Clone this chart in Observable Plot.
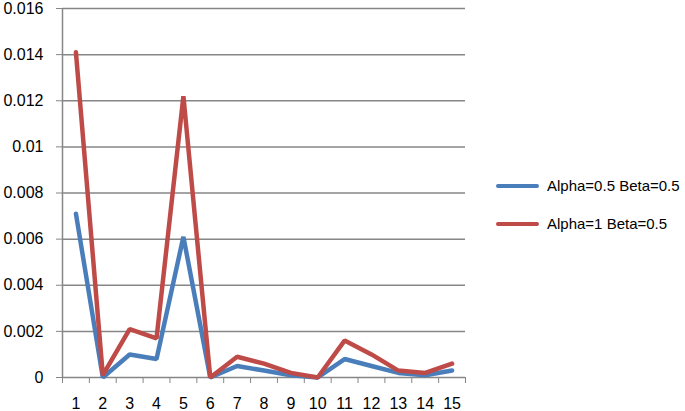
<!DOCTYPE html>
<html><head><meta charset="utf-8">
<script src="https://cdn.jsdelivr.net/npm/d3@7"></script>
<script src="https://cdn.jsdelivr.net/npm/@observablehq/plot@0.6"></script>
<style>
body{margin:0;background:#fff;}
#wrap{position:relative;width:685px;height:411px;font-family:"Liberation Sans",Arial,sans-serif;}
.leg{position:absolute;left:496px;font-size:15px;color:#000;display:flex;align-items:center;white-space:nowrap;}
.leg span.sw{display:inline-block;width:43px;height:4px;border-radius:2px;margin-right:8px;}
</style></head>
<body><div id="wrap"></div>
<script>
const categories = [1,2,3,4,5,6,7,8,9,10,11,12,13,14,15];
const seriesNames = ["Alpha=0.5 Beta=0.5", "Alpha=1 Beta=0.5"];
const alpha05 = [0.0071,0,0.001,0.0008,0.0061,0,0.0005,0.0003,0.0001,0,0.0008,0.0005,0.0002,0.0001,0.0003];
const alpha1 = [0.0141,0.0001,0.0021,0.0017,0.0122,0,0.0009,0.0006,0.0002,0,0.0016,0.001,0.0003,0.0002,0.0006];
const yTicks = [0,0.002,0.004,0.006,0.008,0.01,0.012,0.014,0.016];
const colors = ["#4A7EBB","#BE4B48"];

const data = [];
categories.forEach((c,i)=>{
  data.push({x:c, y:alpha05[i], s:seriesNames[0]});
  data.push({x:c, y:alpha1[i], s:seriesNames[1]});
});
const boundaries = [categories[0]-0.5, ...categories.map(c=>c+0.5)];
const grey = "#868686";

const chart = Plot.plot({
  width: 685, height: 411,
  marginLeft: 62, marginRight: 220, marginTop: 8, marginBottom: 34,
  style: {fontFamily: '"Liberation Sans", Arial, sans-serif', fontSize: "16px", color: "#000", background: "#fff"},
  x: {type: "linear", domain: [categories[0]-0.5, categories[categories.length-1]+0.5]},
  y: {domain: [0, 0.016]},
  color: {domain: seriesNames, range: colors},
  marks: [
    Plot.gridY(yTicks, {stroke: grey, strokeOpacity: 1, strokeWidth: 1.5}),
    Plot.ruleX([categories[0]-0.5], {stroke: grey, strokeWidth: 1.5}),
    Plot.axisY(yTicks, {tickSize: 6, stroke: grey, tickPadding: 13, tickFormat: d => String(+d.toFixed(3)), label: null, fill: "#000"}),
    Plot.axisX(boundaries, {tickSize: 6, stroke: grey, tickFormat: () => "", label: null}),
    Plot.axisX(categories, {tickSize: 0, tickPadding: 20, tickFormat: d => String(d), label: null, fill: "#000"}),
    Plot.line(data, {x: "x", y: "y", z: "s", stroke: "s", strokeWidth: 4.5, strokeLinejoin: "miter", strokeLinecap: "round"})
  ]
});
const wrap = document.getElementById("wrap");
wrap.appendChild(chart);
[187,225].forEach((top,i)=>{
  const d = document.createElement("div");
  d.className = "leg";
  d.style.top = (top-10)+"px";
  d.innerHTML = `<span class="sw" style="background:${colors[i]}"></span>${seriesNames[i]}`;
  wrap.appendChild(d);
});
</script></body></html>
